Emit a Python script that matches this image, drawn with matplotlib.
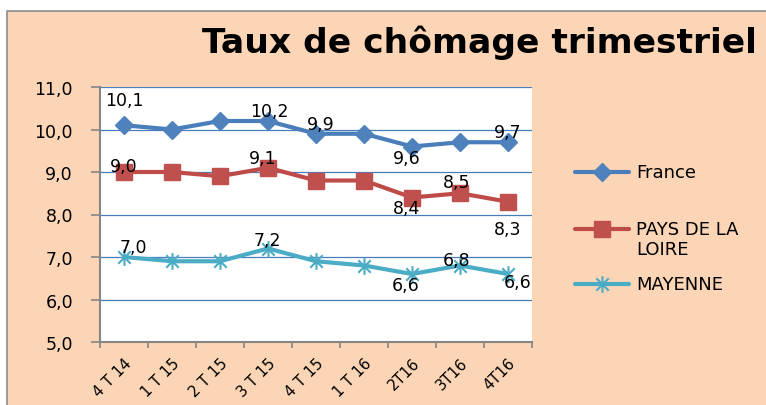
import matplotlib
matplotlib.use("Agg")
import matplotlib.pyplot as plt
from matplotlib.patches import Rectangle
from matplotlib.lines import Line2D
from matplotlib.path import Path
from matplotlib.ticker import FuncFormatter, FixedLocator
from matplotlib.transforms import ScaledTranslation

# ---- data ----
categories = ["4 T 14", "1 T 15", "2 T 15", "3 T 15", "4 T 15", "1 T 16", "2T16", "3T16", "4T16"]
france = [10.1, 10.0, 10.2, 10.2, 9.9, 9.9, 9.6, 9.7, 9.7]
pays_loire = [9.0, 9.0, 8.9, 9.1, 8.8, 8.8, 8.4, 8.5, 8.3]
mayenne = [7.0, 6.9, 6.9, 7.2, 6.9, 6.8, 6.6, 6.8, 6.6]
series_names = ["France", "PAYS DE LA\nLOIRE", "MAYENNE"]
title = "Taux de chômage trimestriel"

# labelled points and label offsets (pixels)
france_lbl = [0, 3, 4, 6, 8]
france_off = [(0, 25), (1, 10), (5, 10), (-5, -12), (0, 10)]
pays_lbl = [0, 3, 6, 7, 8]
pays_off = [(0, 6), (-5, 10), (-5, -11), (-3, 11), (0, -27)]
may_lbl = [0, 3, 6, 7, 8]
may_off = [(9, 10), (-1, 9), (-6, -11), (-3, 6), (10, -8)]

W, H = 766, 406
fig = plt.figure(figsize=(W / 100, H / 100), dpi=100)
fig.patch.set_facecolor("white")
bg = "#FBD5B5"
fig.add_artist(Rectangle((7 / W, -0.02), 1.05, 1 - 12 / H + 0.02, transform=fig.transFigure,
                         facecolor=bg, edgecolor="#8C8C8C", lw=1.2, zorder=0))

ax = fig.add_axes([100 / W, 1 - 343 / H, 432 / W, (343 - 88) / H])
ax.set_facecolor("white")

star = Path([(0, -1), (0, 1), (-0.75, -0.75), (0.75, 0.75), (-0.75, 0.75), (0.75, -0.75)],
            [Path.MOVETO, Path.LINETO, Path.MOVETO, Path.LINETO, Path.MOVETO, Path.LINETO])

x = list(range(len(categories)))
styles = [
    dict(color="#4A7EBB", marker="D", ms=9.5, mfc="#4F81BD", mec="#4F81BD"),
    dict(color="#BE4B48", marker="s", ms=11.5, mfc="#C0504D", mec="#C0504D"),
    dict(color="#4BACC6", marker=star, ms=12, mfc="none", mec="#4BACC6", mew=1.5),
]
data = [france, pays_loire, mayenne]
lbls = [france_lbl, pays_lbl, may_lbl]
offs = [france_off, pays_off, may_off]

for vals, st, li, of in zip(data, styles, lbls, offs):
    ax.plot(x, vals, lw=3, zorder=3, solid_capstyle="round", **st)
    for i, (dx, dy) in zip(li, of):
        ax.annotate(f"{vals[i]:.1f}".replace(".", ","), (x[i], vals[i]),
                    xytext=(dx, dy), textcoords="offset pixels",
                    ha="center", va="center", fontsize=12.5, color="black", zorder=5)

ax.set_xlim(-0.5, len(categories) - 0.5)
ax.set_ylim(5, 11)
ax.set_yticks([5, 6, 7, 8, 9, 10, 11])
ax.yaxis.set_major_formatter(FuncFormatter(lambda v, p: f"{v:.1f}".replace(".", ",")))
ax.grid(axis="y", color="#4A7EBB", lw=0.9, zorder=1)
ax.set_axisbelow(True)

ax.set_xticks(x)
ax.set_xticklabels(categories, rotation=45, ha="right", rotation_mode="anchor", fontsize=10.8)
shift = ScaledTranslation(2 / 100, 0, fig.dpi_scale_trans)
for lab in ax.get_xticklabels():
    lab.set_transform(lab.get_transform() + shift)
ax.xaxis.set_minor_locator(FixedLocator([i - 0.5 for i in range(len(categories) + 1)]))
ax.tick_params(axis="x", which="major", length=0, pad=9.5)
ax.tick_params(axis="x", which="minor", length=4, width=1.2, color="#868686", direction="out")
ax.tick_params(axis="y", length=6.5, width=1.2, color="#868686", pad=13, labelsize=12.5)

for s in ["top", "right"]:
    ax.spines[s].set_visible(False)
for s in ["left", "bottom"]:
    ax.spines[s].set_color("#868686")
    ax.spines[s].set_linewidth(1.5)

# title
fig.text(202 / W, 1 - 53 / H, title, ha="left", va="baseline", fontsize=24.8,
         fontweight="bold", color="black")

# legend (manual, Excel-style)
leg_y = [173, 230, 285]
for (st, name, yy) in zip(styles, series_names, leg_y):
    yf = 1 - yy / H
    fig.add_artist(Line2D([575 / W, 629 / W], [yf, yf], transform=fig.transFigure,
                          color=st["color"], lw=3, solid_capstyle="round"))
    mk = {k: v for k, v in st.items() if k != "color"}
    fig.add_artist(Line2D([602 / W], [yf], transform=fig.transFigure, ls="none", **mk))
    if "\n" in name:
        fig.text(636 / W, 1 - 221 / H, name, ha="left", va="top",
                 fontsize=13, color="black", linespacing=1.15)
    else:
        fig.text(636 / W, yf, name, ha="left", va="center", fontsize=13, color="black")

fig.savefig("out.png", dpi=100, facecolor=fig.get_facecolor())
